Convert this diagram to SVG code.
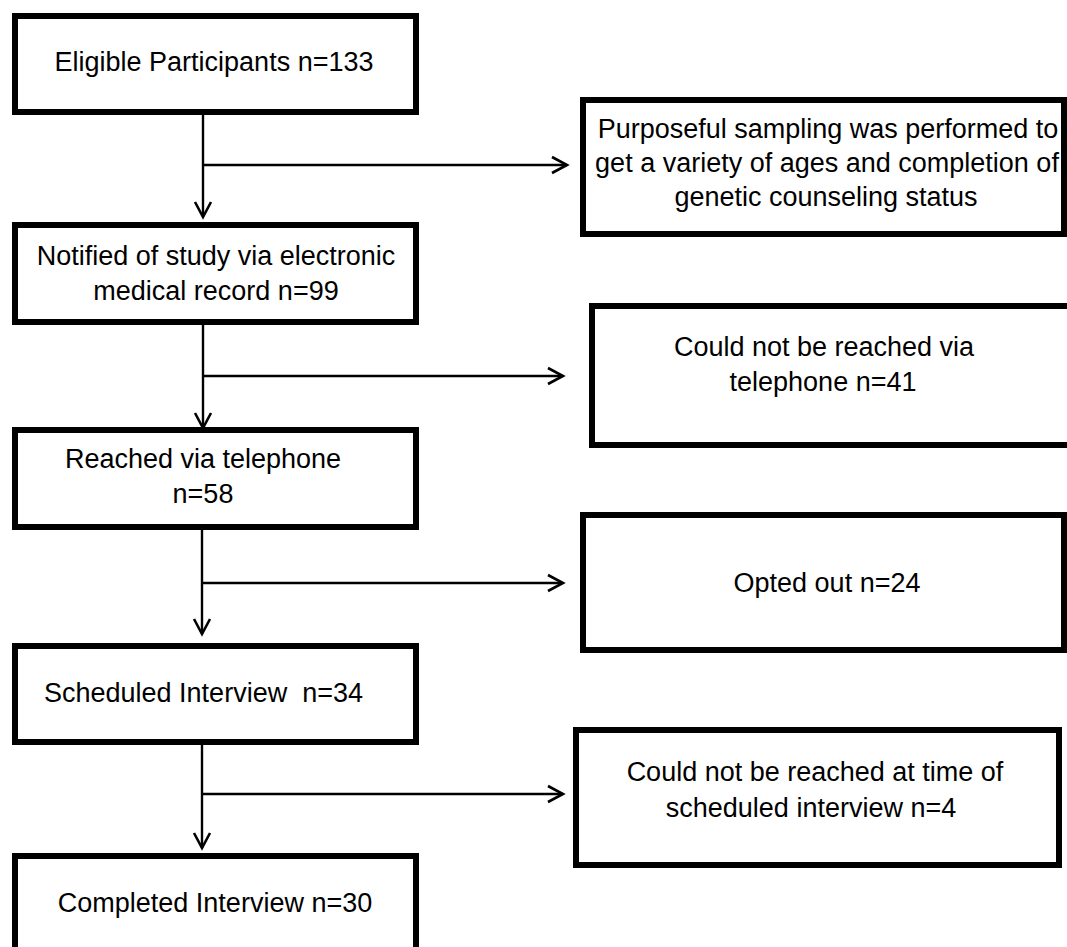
<svg xmlns="http://www.w3.org/2000/svg" width="1067" height="947" viewBox="0 0 1067 947">
<style>
.box{fill:#fff;stroke:#000;stroke-width:6}
.t{font-family:"Liberation Sans",Arial,sans-serif;font-size:27px;fill:#000;text-anchor:middle}
.ts{text-anchor:start;white-space:pre}
.ln{fill:none;stroke:#000;stroke-width:2.4}
</style>
<defs>
<marker id="arr" markerUnits="userSpaceOnUse" markerWidth="22" markerHeight="22" viewBox="-18 -11 22 22" refX="0" refY="0" orient="auto">
<path d="M-15,-8 L0,0 L-15,8" fill="none" stroke="#000" stroke-width="2.6"/>
</marker>
</defs>
<rect x="0" y="0" width="1067" height="947" fill="#fff"/>
<g id="connectors">
<path class="ln" d="M203,115 V217" marker-end="url(#arr)"/>
<path class="ln" d="M203,165 H567" marker-end="url(#arr)"/>
<path class="ln" d="M203,325 V428" marker-end="url(#arr)"/>
<path class="ln" d="M203,376 H563" marker-end="url(#arr)"/>
<path class="ln" d="M202,530 V634" marker-end="url(#arr)"/>
<path class="ln" d="M202,583 H563" marker-end="url(#arr)"/>
<path class="ln" d="M202,745 V848" marker-end="url(#arr)"/>
<path class="ln" d="M202,794 H563" marker-end="url(#arr)"/>
</g>
<g id="n1">
<rect class="box" x="15" y="16" width="401" height="96"/>
<text class="t" x="214" y="71">Eligible Participants n=133</text>
</g>
<g id="n2">
<rect class="box" x="15" y="225" width="401" height="97"/>
<text class="t" x="216" y="265">Notified of study via electronic</text>
<text class="t" x="216" y="300">medical record n=99</text>
</g>
<g id="n3">
<rect class="box" x="15" y="430" width="401" height="97"/>
<text class="t" x="203" y="468">Reached via telephone</text>
<text class="t" x="203" y="503">n=58</text>
</g>
<g id="n4">
<rect class="box" x="15" y="646" width="401" height="96"/>
<text class="t ts" x="44" y="702">Scheduled Interview  n=34</text>
</g>
<g id="n5">
<rect class="box" x="15" y="856" width="401" height="110"/>
<text class="t" x="215" y="912">Completed Interview n=30</text>
</g>
<g id="r1">
<rect class="box" x="583" y="100" width="481" height="134"/>
<text class="t" x="828" y="138">Purposeful sampling was performed to</text>
<text class="t" x="827" y="172">get a variety of ages and completion of</text>
<text class="t" x="826" y="206">genetic counseling status</text>
</g>
<g id="r2">
<rect class="box" x="592" y="306" width="480" height="139"/>
<text class="t" x="824" y="356">Could not be reached via</text>
<text class="t" x="823" y="391">telephone n=41</text>
</g>
<g id="r3">
<rect class="box" x="583" y="515" width="481" height="135"/>
<text class="t" x="827" y="592">Opted out n=24</text>
</g>
<g id="r4">
<rect class="box" x="576" y="730" width="483" height="135"/>
<text class="t" x="815" y="781">Could not be reached at time of</text>
<text class="t" x="811" y="817">scheduled interview n=4</text>
</g>
</svg>
